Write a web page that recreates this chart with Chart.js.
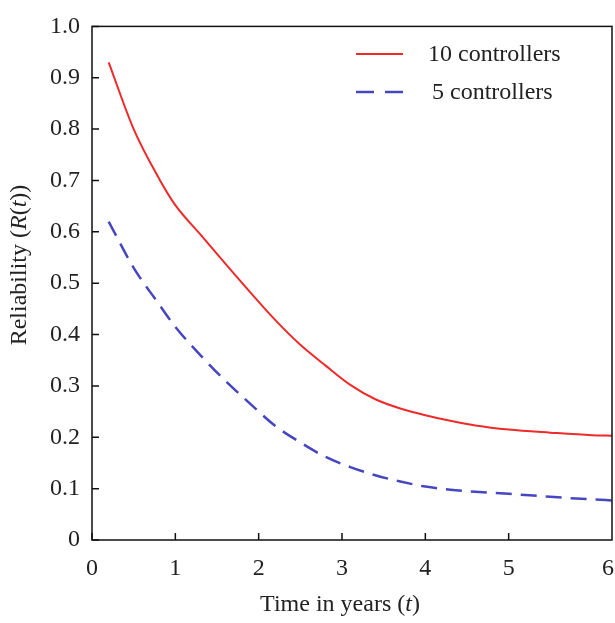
<!DOCTYPE html>
<html>
<head>
<meta charset="utf-8">
<script src="https://cdn.jsdelivr.net/npm/chart.js@4.4.1/dist/chart.umd.min.js"></script>
<style>
  html, body { margin: 0; padding: 0; background: #fff; }
  #wrap { width: 615px; height: 623px; }
</style>
</head>
<body>
<div id="wrap"><canvas id="chart" width="615" height="623"></canvas></div>
<script>
// reliability curves, t in years
const years = [0.2, 0.5, 0.8, 1.0, 1.3, 1.6, 1.9, 2.2, 2.5, 2.8, 3.1, 3.4, 3.7, 4.0, 4.3, 4.6, 5.0, 5.5, 6.0, 6.24];
const tenControllers = [0.93, 0.80, 0.705, 0.652, 0.595, 0.538, 0.482, 0.428, 0.38, 0.34, 0.302, 0.274, 0.256, 0.243, 0.232, 0.223, 0.215, 0.209, 0.204, 0.203];
const fiveControllers = [0.62, 0.53, 0.46, 0.415, 0.36, 0.31, 0.265, 0.222, 0.19, 0.162, 0.142, 0.126, 0.114, 0.104, 0.098, 0.094, 0.09, 0.084, 0.079, 0.077];

const xTicks = [0, 1, 2, 3, 4, 5, 6.24];
const xTickLabels = ['0', '1', '2', '3', '4', '5', '6'];
const yTicks = [0, 0.1, 0.2, 0.3, 0.4, 0.5, 0.6, 0.7, 0.8, 0.9, 1.0];

const FONT = '"Liberation Serif", "Times New Roman", serif';
const RED = '#ee2a2a';
const BLUE = '#4646c0';
const BLUE_DASH = [16, 9];

const toPoints = (xs, ys) => xs.map((x, i) => ({ x, y: ys[i] }));

// draws mixed upright/italic text segments, centred on (cx, cy)
function drawRich(ctx, parts, cx, cy, size) {
  const fontFor = p => (p.italic ? 'italic ' : '') + size + 'px ' + FONT;
  let total = 0;
  parts.forEach(p => { ctx.font = fontFor(p); total += ctx.measureText(p.text).width; });
  let x = cx - total / 2;
  ctx.textAlign = 'left';
  ctx.textBaseline = 'middle';
  parts.forEach(p => {
    ctx.font = fontFor(p);
    ctx.fillText(p.text, x, cy);
    x += ctx.measureText(p.text).width;
  });
}

const framePlugin = {
  id: 'frame',
  afterDraw(chart) {
    const { ctx, chartArea: a, scales } = chart;
    ctx.save();
    ctx.strokeStyle = '#111';
    ctx.fillStyle = '#222';

    // box around the plot
    ctx.lineWidth = 1.5;
    ctx.strokeRect(a.left, a.top, a.right - a.left, a.bottom - a.top);

    // inward tick marks
    ctx.beginPath();
    yTicks.forEach(v => {
      const y = scales.y.getPixelForValue(v);
      ctx.moveTo(a.left, y);
      ctx.lineTo(a.left + 7, y);
    });
    xTicks.slice(0, 6).forEach(v => {
      const x = scales.x.getPixelForValue(v);
      ctx.moveTo(x, a.bottom);
      ctx.lineTo(x, a.bottom - 7);
    });
    ctx.stroke();

    // x tick labels
    ctx.font = '24px ' + FONT;
    ctx.textAlign = 'center';
    ctx.textBaseline = 'middle';
    xTicks.forEach((v, i) => {
      let x = scales.x.getPixelForValue(v);
      if (i === xTicks.length - 1) x -= 4;
      ctx.fillText(xTickLabels[i], x, a.bottom + 29);
    });

    // axis titles
    drawRich(ctx, [{ text: 'Time in years (' }, { text: 't', italic: true }, { text: ')' }], 340, 605, 24);
    ctx.save();
    ctx.translate(20, 265);
    ctx.rotate(-Math.PI / 2);
    drawRich(ctx, [
      { text: 'Reliability (' }, { text: 'R', italic: true }, { text: '(' },
      { text: 't', italic: true }, { text: '))' }
    ], 0, 0, 24);
    ctx.restore();

    // legend
    ctx.lineWidth = 2;
    ctx.strokeStyle = RED;
    ctx.beginPath();
    ctx.moveTo(356, 54);
    ctx.lineTo(403, 54);
    ctx.stroke();
    ctx.lineWidth = 2.5;
    ctx.strokeStyle = BLUE;
    ctx.setLineDash([18, 11]);
    ctx.beginPath();
    ctx.moveTo(356, 92);
    ctx.lineTo(403, 92);
    ctx.stroke();
    ctx.setLineDash([]);
    ctx.font = '24px ' + FONT;
    ctx.textAlign = 'left';
    ctx.textBaseline = 'middle';
    ctx.fillText('10 controllers', 428, 55);
    ctx.fillText('5 controllers', 432, 93);

    ctx.restore();
  }
};

new Chart(document.getElementById('chart'), {
  type: 'line',
  data: {
    datasets: [
      {
        label: '10 controllers',
        data: toPoints(years, tenControllers),
        borderColor: RED,
        borderWidth: 2,
        pointRadius: 0,
        cubicInterpolationMode: 'monotone',
        fill: false
      },
      {
        label: '5 controllers',
        data: toPoints(years, fiveControllers),
        borderColor: BLUE,
        borderWidth: 2.5,
        borderDash: BLUE_DASH,
        pointRadius: 0,
        cubicInterpolationMode: 'monotone',
        fill: false
      }
    ]
  },
  options: {
    responsive: false,
    animation: false,
    devicePixelRatio: 1,
    layout: { padding: { top: 18, right: 3, left: 0, bottom: 0 } },
    plugins: { legend: { display: false }, tooltip: { enabled: false } },
    scales: {
      x: {
        type: 'linear',
        min: 0,
        max: 6.24,
        grid: { display: false, drawTicks: false },
        border: { display: false },
        ticks: { display: false },
        afterFit(scale) { scale.height = 83; }
      },
      y: {
        type: 'linear',
        min: 0,
        max: 1,
        afterBuildTicks(scale) { scale.ticks = yTicks.map(v => ({ value: v })); },
        grid: { display: false, drawTicks: false },
        border: { display: false },
        ticks: {
          padding: 12,
          color: '#222',
          font: { family: FONT, size: 24 },
          callback: v => (v === 0 ? '0' : v.toFixed(1))
        },
        afterFit(scale) { scale.width = 92; }
      }
    }
  },
  plugins: [framePlugin]
});
</script>
</body>
</html>
